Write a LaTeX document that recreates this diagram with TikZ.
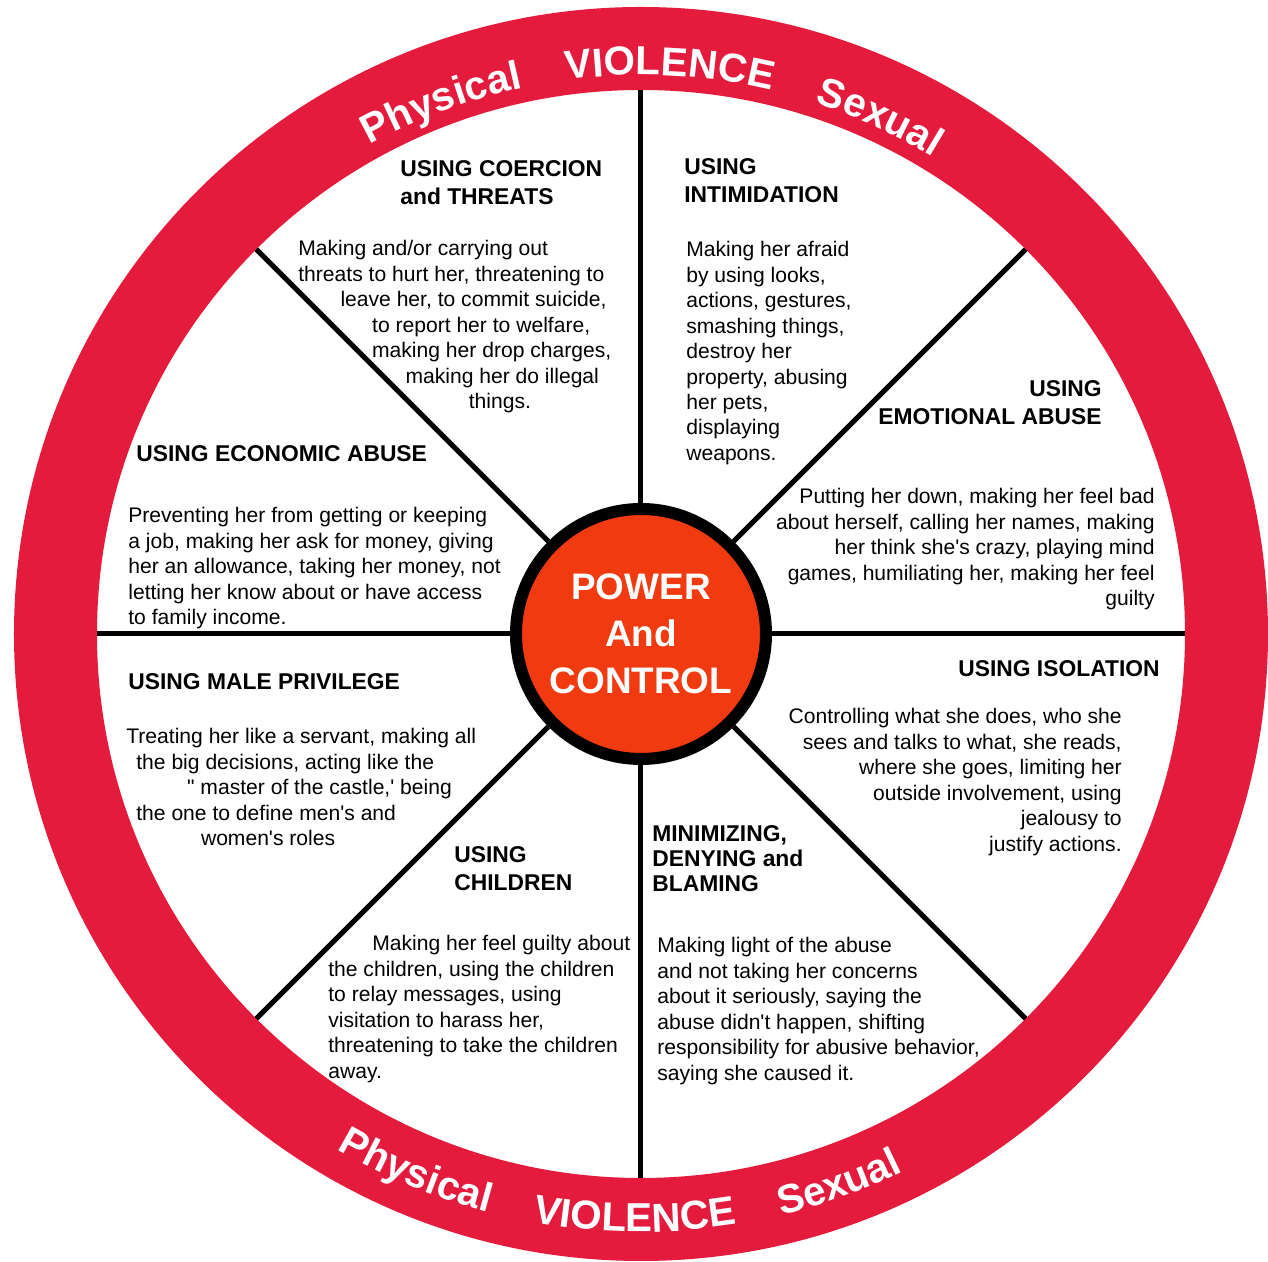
\documentclass[tikz,border=0pt]{standalone}
\usepackage{fontspec}
\newfontfamily\wheelfont{Liberation Sans}
\usepackage{xcolor}
\definecolor{ringred}{RGB}{228,27,60}
\definecolor{hubred}{RGB}{242,58,16}
\usetikzlibrary{decorations.text}
\newcommand{\headfont}{\wheelfont\bfseries\fontsize{13}{15.9}\selectfont}
\newcommand{\bodyfont}{\wheelfont\fontsize{12}{14.5}\selectfont}
\newcommand{\ringfont}{\wheelfont\bfseries\fontsize{23}{23}\selectfont}
\tikzset{
  head/.style={font=\headfont,inner sep=0pt,anchor=north west,align=left},
  body/.style={font=\bodyfont,inner sep=0pt,anchor=north west,align=left},
  hub/.style={circle,draw=black,fill=hubred,line width=0.24cm,minimum size=5cm,inner sep=0pt,
    text=white,align=center,font=\wheelfont\bfseries\fontsize{21}{26.6}\selectfont},
  spokeline/.style={line width=0.1cm}
}
\newcommand{\spoke}[2]{\coordinate (#1) at (#2:\rin); \draw[spokeline] (hub) -- (#1);}
\newcommand{\topword}[2]{\path[decorate,decoration={text along path,text align=center,
    text={|\color{white}\ringfont|#2}}] (#1+18:\rtop) arc (#1+18:#1-18:\rtop);}
\newcommand{\lowword}[2]{\path[decorate,decoration={text along path,text align=center,
    text={|\color{white}\ringfont|#2}}] (#1-18:\rlow) arc (#1-18:#1+18:\rlow);}

\begin{document}
\begin{tikzpicture}
  \pgfmathsetmacro{\rin}{10.88};
  \pgfmathsetmacro{\rtop}{11.18};
  \pgfmathsetmacro{\rlow}{11.96};
  \useasboundingbox (-12.82,-12.56) rectangle (12.54,12.68);

  % outer ring and its words
  \draw[ringred,line width=1.66cm] (0,0) circle (11.71);
  \topword{110.6}{Physical}
  \topword{87.1}{VIOLENCE}
  \topword{65.2}{Sexual}
  \lowword{-112.7}{Physical}
  \lowword{-90.6}{VIOLENCE}
  \lowword{-70.2}{Sexual}

  \node[hub] (hub) at (0,0) {POWER\\And\\CONTROL};
  \spoke{rimE}{0}
  \spoke{rimNE}{45}
  \spoke{rimN}{90}
  \spoke{rimNW}{135}
  \spoke{rimW}{180}
  \spoke{rimSW}{225}
  \spoke{rimS}{270}
  \spoke{rimSE}{315}

  % sectors
  \node[head] (coerhead) at (-4.82,9.48) {USING COERCION\\and THREATS};
  \node[body] (coerbody) at (-6.86,7.88) {Making and/or carrying out\\
    threats to hurt her, threatening to\\
    \hspace*{24pt}leave her, to commit suicide,\\
    \hspace*{42pt}to report her to welfare,\\
    \hspace*{42pt}making her drop charges,\\
    \hspace*{61pt}making her do illegal\\
    \hspace*{97pt}things.};

  \node[head] (intihead) at (0.86,9.52) {USING\\INTIMIDATION};
  \node[body] (intibody) at (0.90,7.86) {Making her afraid\\by using looks,\\actions, gestures,\\
    smashing things,\\destroy her\\property, abusing\\her pets,\\displaying\\weapons.};

  \node[head,anchor=north east,align=right] (emohead) at (9.22,5.08) {USING\\EMOTIONAL ABUSE};
  \node[body,anchor=north east,align=right] (emobody) at (10.28,2.92) {Putting her down, making her feel bad\\
    about herself, calling her names, making\\her think she's crazy, playing mind\\
    games, humiliating her, making her feel\\guilty};

  \node[head] (econhead) at (-10.10,3.78) {USING ECONOMIC ABUSE};
  \node[body] (econbody) at (-10.26,2.54) {Preventing her from getting or keeping\\
    a job, making her ask for money, giving\\her an allowance, taking her money, not\\
    letting her know about or have access\\to family income.};

  \node[head] (malehead) at (-10.26,-0.78) {USING MALE PRIVILEGE};
  \node[body] (malebody) at (-10.30,-1.88) {Treating her like a servant, making all\\
    \hspace*{5.7pt}the big decisions, acting like the\\
    \hspace*{34.6pt}" master of the castle,' being\\
    \hspace*{5.7pt}the one to define men's and\\
    \hspace*{42.5pt}women's roles};

  \node[head,anchor=north east,align=right] (isolhead) at (10.38,-0.52) {USING ISOLATION};
  \node[body,anchor=north east,align=right] (isolbody) at (9.62,-1.48) {Controlling what she does, who she\\
    sees and talks to what, she reads,\\where she goes, limiting her\\
    outside involvement, using\\jealousy to\\justify actions.};

  \node[head] (chilhead) at (-3.74,-4.24) {USING\\CHILDREN};
  \node[body] (chilbody) at (-6.26,-6.02) {\hspace*{25pt}Making her feel guilty about\\
    the children, using the children\\to relay messages, using\\visitation to harass her,\\
    threatening to take the children\\away.};

  \node[head,font=\wheelfont\bfseries\fontsize{13}{14.2}\selectfont] (minihead) at (0.22,-3.82)
    {MINIMIZING,\\DENYING and\\BLAMING};
  \node[body] (minibody) at (0.32,-6.06) {Making light of the abuse\\and not taking her concerns\\
    about it seriously, saying the\\abuse didn't happen, shifting\\
    responsibility for abusive behavior,\\saying she caused it.};
\end{tikzpicture}
\end{document}
